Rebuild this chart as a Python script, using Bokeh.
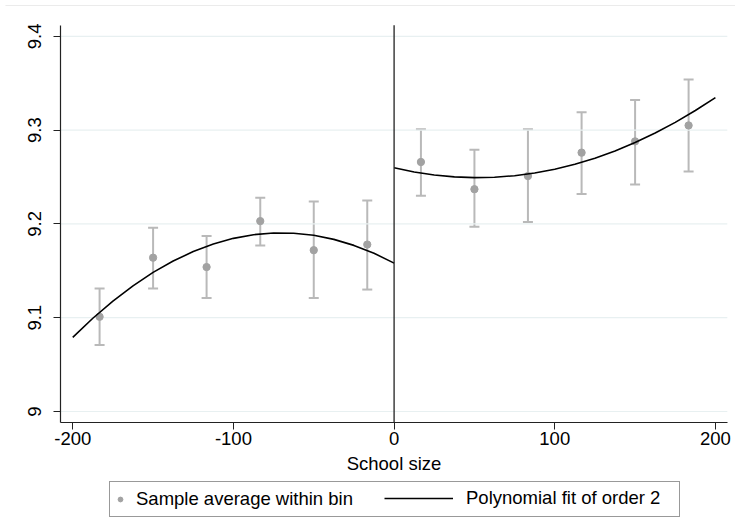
import math
from bokeh.plotting import figure
from bokeh.models import (Range1d, FixedTicker, Legend, LegendItem, Whisker,
                          ColumnDataSource, TeeHead)
from bokeh.core.properties import value
from bokeh.embed import file_html
from bokeh.resources import INLINE

# ---- data ----
bins_left = [-183.3, -150.0, -116.7, -83.3, -50.0, -16.7]
mean_left = [9.101, 9.164, 9.154, 9.203, 9.172, 9.178]
upper_left = [9.131, 9.196, 9.187, 9.228, 9.224, 9.225]
lower_left = [9.071, 9.131, 9.121, 9.177, 9.121, 9.130]

bins_right = [16.7, 50.0, 83.3, 116.7, 150.0, 183.3]
mean_right = [9.266, 9.237, 9.251, 9.276, 9.288, 9.305]
upper_right = [9.301, 9.279, 9.301, 9.319, 9.332, 9.354]
lower_right = [9.230, 9.197, 9.202, 9.232, 9.242, 9.256]

fit_x_left = [-200, -187.5, -175, -162.5, -150, -137.5, -125, -112.5, -100,
              -87.5, -75, -62.5, -50, -37.5, -25, -12.5, 0]
fit_y_left = [9.0790, 9.0994, 9.1177, 9.1340, 9.1483, 9.1604, 9.1705, 9.1786, 9.1846,
              9.1885, 9.1903, 9.1901, 9.1879, 9.1835, 9.1771, 9.1687, 9.1582]
fit_x_right = [0, 12.5, 25, 37.5, 50, 62.5, 75, 87.5, 100,
               112.5, 125, 137.5, 150, 162.5, 175, 187.5, 200]
fit_y_right = [9.2598, 9.2554, 9.2521, 9.2501, 9.2493, 9.2497, 9.2514, 9.2542, 9.2583,
               9.2636, 9.2701, 9.2778, 9.2868, 9.2969, 9.3083, 9.3209, 9.3347]

cutoff = 0
x_ticks = [-200, -100, 0, 100, 200]
x_tick_labels = ["-200", "-100", "0", "100", "200"]
y_ticks = [9.0, 9.1, 9.2, 9.3, 9.4]
y_tick_labels = ["9", "9.1", "9.2", "9.3", "9.4"]
x_label = "School size"
legend_labels = ["Sample average within bin", "Polynomial fit of order 2"]

# plot region (axis extent) and the full drawing region
x_lo, x_hi = -207.6, 207.4
y_lo, y_hi = 8.9883, 9.4117
x_view_lo, x_view_hi = -244.97, 212.49
y_view_lo, y_view_hi = 8.8859, 9.4382
outer_border_y = 9.4329
outer_border_x0 = -241.9
y_label_x = -223.5   # where the rotated y tick labels sit

FONT = "Liberation Sans"
FS = "18.5px"
DOT = "#a2a2a2"
BAR = "#b9b9b9"
GRID = "#e8f0f1"

p = figure(width=735, height=518,
           x_range=Range1d(x_view_lo, x_view_hi), y_range=Range1d(y_view_lo, y_view_hi),
           output_backend="svg", toolbar_location=None,
           min_border_left=0, min_border_right=0, min_border_top=0, min_border_bottom=0)
p.outline_line_color = None
p.background_fill_color = "white"
p.border_fill_color = "white"
p.xgrid.visible = False
p.ygrid.visible = False

# faint outer border line at top
p.segment(x0=[outer_border_x0], y0=[outer_border_y], x1=[x_view_hi], y1=[outer_border_y],
          line_color="#ebebeb", line_width=1)

# horizontal grid lines over the plot region only
p.segment(x0=[x_lo] * len(y_ticks), y0=y_ticks, x1=[x_hi] * len(y_ticks), y1=y_ticks,
          line_color=GRID, line_width=1.2)

# error bars
src = ColumnDataSource(dict(x=bins_left + bins_right,
                            m=mean_left + mean_right,
                            up=upper_left + upper_right,
                            lo=lower_left + lower_right))
wh = Whisker(base="x", upper="up", lower="lo", source=src, dimension="height",
             line_color=BAR, line_width=2,
             upper_head=TeeHead(size=10, line_color=BAR, line_width=2),
             lower_head=TeeHead(size=10, line_color=BAR, line_width=2))
p.add_layout(wh)

dots = p.scatter("x", "m", source=src, size=7.3, fill_color=DOT, line_color=DOT)

fit_l = p.line(fit_x_left, fit_y_left, line_color="black", line_width=1.6)
fit_r = p.line(fit_x_right, fit_y_right, line_color="black", line_width=1.6)

# cutoff line spanning the plot region
p.segment(x0=[cutoff], y0=[y_lo], x1=[cutoff], y1=[y_hi], line_color="#222222", line_width=1.3)

# axes
p.xaxis.ticker = FixedTicker(ticks=x_ticks)
p.xaxis.major_label_overrides = {t: l for t, l in zip(x_ticks, x_tick_labels)}
p.xaxis.fixed_location = y_lo
p.xaxis.bounds = (x_lo, x_hi)
p.yaxis.ticker = FixedTicker(ticks=y_ticks)
p.yaxis.major_label_overrides = {t: "" for t in y_ticks}
p.yaxis.fixed_location = x_lo
p.yaxis.bounds = (y_lo, y_hi)
for ax in (p.xaxis, p.yaxis):
    ax.axis_line_color = "#222222"
    ax.axis_line_width = 1.2
    ax.major_tick_line_color = "#222222"
    ax.major_tick_in = 0
    ax.major_tick_out = 7
    ax.minor_tick_line_color = None
    ax.major_label_text_font = FONT
    ax.major_label_text_font_size = FS
    ax.major_label_text_color = "black"
p.xaxis.major_label_standoff = 3
p.xaxis.axis_label = x_label
p.xaxis.axis_label_text_font = FONT
p.xaxis.axis_label_text_font_size = FS
p.xaxis.axis_label_text_font_style = "normal"
p.xaxis.axis_label_text_color = "black"
p.xaxis.axis_label_standoff = 4

# rotated y tick labels, centred on their ticks
p.text(x=[y_label_x] * len(y_ticks), y=y_ticks, text=y_tick_labels, angle=math.pi / 2,
       text_align="center", text_baseline="middle", text_color="black",
       text_font=value(FONT), text_font_size=value(FS))

# legend: box with first item, and an overlaid borderless legend for the second item
legA = Legend(items=[LegendItem(label=legend_labels[0], renderers=[dots])],
              location=(109, 1), orientation="horizontal",
              padding=4, glyph_width=12, glyph_height=26, label_height=26,
              label_standoff=10, label_width=539, spacing=0, margin=0,
              border_line_color="#333333", border_line_width=1.2,
              background_fill_color="white", background_fill_alpha=1,
              label_text_font=FONT, label_text_font_size=FS, label_text_color="black")
legB = Legend(items=[LegendItem(label=legend_labels[1], renderers=[fit_l])],
              location=(384, 7), orientation="horizontal",
              padding=4, glyph_width=69, glyph_height=26, label_height=26,
              label_standoff=13, spacing=0, margin=0,
              border_line_color=None, background_fill_alpha=0,
              label_text_font=FONT, label_text_font_size=FS, label_text_color="black")
p.add_layout(legA)
p.add_layout(legB)

open("out.html", "w").write(file_html(p, INLINE))
